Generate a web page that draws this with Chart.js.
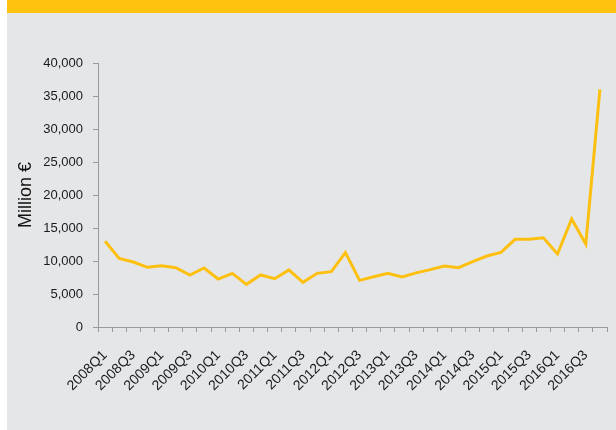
<!DOCTYPE html>
<html>
<head>
<meta charset="utf-8">
<script src="https://cdn.jsdelivr.net/npm/chart.js@4/dist/chart.umd.min.js"></script>
<style>
    html, body { margin: 0; padding: 0; background: #fff; }
    .panel { position: absolute; left: 7px; top: 0; width: 609px; height: 430px; background: #e5e6e8; }
    .band { position: absolute; left: 0; top: 0; width: 100%; height: 13px; background: #ffc20e; }
    .wrap { position: absolute; left: 0; top: 13px; width: 609px; height: 417px; }
</style>
</head>
<body>
<div class="panel">
    <div class="band"></div>
    <div class="wrap"><canvas id="chart"></canvas></div>
</div>
<script>
const years = ['2008', '2009', '2010', '2011', '2012', '2013', '2014', '2015', '2016'];
const quarters = ['Q1', 'Q2', 'Q3', 'Q4'];
const labels = years.flatMap((y) => quarters.map((q) => y + q));

const values = [
    13000, 10400, 9850, 9040,
    9290, 8990, 7880, 8940,
    7270, 8130, 6460, 7880,
    7320, 8640, 6770, 8130,
    8380, 11260, 7070, 7620,
    8130, 7580, 8200, 8690,
    9240, 8990, 9900, 10760,
    11310, 13280, 13300, 13530,
    11060, 16360, 12580, 36000,
];

const yTicks = { min: 0, max: 40000, step: 5000 };
const axisColor = '#9a9a9a';
const font = 'Liberation Sans, Arial, Helvetica, sans-serif';

new Chart(document.getElementById('chart'), {
    type: 'line',
    data: {
        labels,
        datasets: [{
            data: values,
            borderColor: '#fdc010',
            borderWidth: 3,
            pointRadius: 0,
            tension: 0,
            fill: false,
        }],
    },
    options: {
        responsive: true,
        maintainAspectRatio: false,
        animation: false,
        layout: { padding: { top: 50, right: 9, left: 0, bottom: 0 } },
        plugins: { legend: { display: false }, tooltip: { enabled: false } },
        scales: {
            x: {
                offset: true,
                grid: { drawOnChartArea: false, drawTicks: true, tickLength: 5, color: axisColor, offset: true },
                border: { color: axisColor, width: 1 },
                ticks: {
                    autoSkip: false,
                    minRotation: 45,
                    maxRotation: 45,
                    padding: 15,
                    color: '#1a1a1a',
                    font: { family: font, size: 14 },
                    callback: (v, i) => (i % 2 === 0 ? labels[i] : ''),
                },
                afterFit: (scale) => {
                    scale.height = 103;
                    scale.paddingLeft = 0;
                    scale.paddingRight = 0;
                },
            },
            y: {
                min: yTicks.min,
                max: yTicks.max,
                grid: { drawOnChartArea: false, drawTicks: true, tickLength: 5, color: axisColor },
                border: { color: axisColor, width: 1 },
                ticks: {
                    stepSize: yTicks.step,
                    padding: 10,
                    color: '#1a1a1a',
                    font: { family: font, size: 13 },
                    callback: (v) => v.toLocaleString('en-US'),
                },
                title: {
                    display: true,
                    text: 'Million €',
                    color: '#111',
                    font: { family: font, size: 18 },
                    padding: { top: 8, bottom: 0 },
                },
                afterFit: (scale) => { scale.width = 91; },
            },
        },
    },
});
</script>
</body>
</html>
